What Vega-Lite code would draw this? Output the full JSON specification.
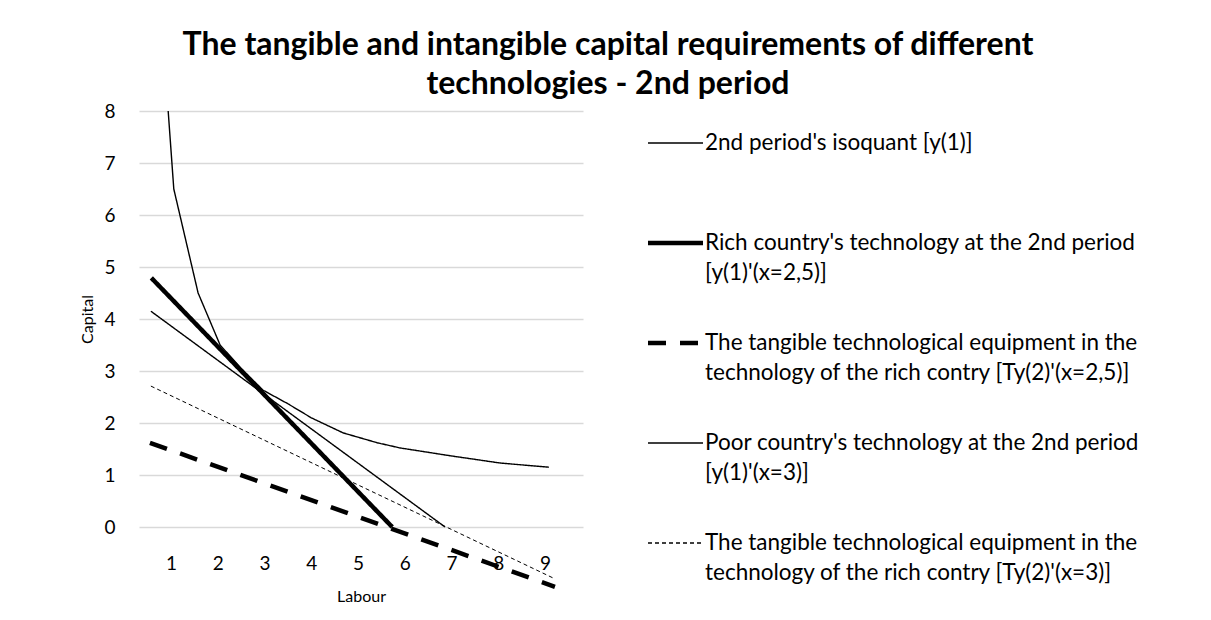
{
  "$schema": "https://vega.github.io/schema/vega-lite/v6.json",
  "width": 444,
  "height": 416,
  "autosize": {"type": "none"},
  "padding": {"left": 139, "top": 111, "right": 628, "bottom": 93},
  "background": "#ffffff",
  "title": {
    "text": ["The tangible and intangible capital requirements of different", "technologies - 2nd period"],
    "font": "Lato",
    "fontSize": 32,
    "fontWeight": "bold",
    "color": "#000000",
    "anchor": "middle",
    "frame": "group",
    "dx": 247,
    "dy": 7,
    "lineHeight": 39,
    "offset": 8
  },
  "data": {
    "values": [
      {"series": "2nd period's isoquant [y(1)]", "labour": 0.94, "capital": 8.0},
      {"series": "2nd period's isoquant [y(1)]", "labour": 1.06, "capital": 6.5},
      {"series": "2nd period's isoquant [y(1)]", "labour": 1.58, "capital": 4.5},
      {"series": "2nd period's isoquant [y(1)]", "labour": 2.05, "capital": 3.5},
      {"series": "2nd period's isoquant [y(1)]", "labour": 2.5, "capital": 3.05},
      {"series": "2nd period's isoquant [y(1)]", "labour": 2.97, "capital": 2.63},
      {"series": "2nd period's isoquant [y(1)]", "labour": 3.5, "capital": 2.37},
      {"series": "2nd period's isoquant [y(1)]", "labour": 4.0, "capital": 2.1},
      {"series": "2nd period's isoquant [y(1)]", "labour": 4.68, "capital": 1.81},
      {"series": "2nd period's isoquant [y(1)]", "labour": 5.41, "capital": 1.62},
      {"series": "2nd period's isoquant [y(1)]", "labour": 5.9, "capital": 1.52},
      {"series": "2nd period's isoquant [y(1)]", "labour": 6.33, "capital": 1.46},
      {"series": "2nd period's isoquant [y(1)]", "labour": 6.97, "capital": 1.37},
      {"series": "2nd period's isoquant [y(1)]", "labour": 8.04, "capital": 1.23},
      {"series": "2nd period's isoquant [y(1)]", "labour": 9.08, "capital": 1.15},
      {"series": "Rich country's technology at the 2nd period [y(1)'(x=2,5)]", "labour": 0.58, "capital": 4.79},
      {"series": "Rich country's technology at the 2nd period [y(1)'(x=2,5)]", "labour": 5.73, "capital": 0.0},
      {"series": "The tangible technological equipment in the technology of the rich contry [Ty(2)'(x=2,5)]", "labour": 0.55, "capital": 1.62},
      {"series": "The tangible technological equipment in the technology of the rich contry [Ty(2)'(x=2,5)]", "labour": 9.21, "capital": -1.15},
      {"series": "Poor country's technology at the 2nd period [y(1)'(x=3)]", "labour": 0.57, "capital": 4.15},
      {"series": "Poor country's technology at the 2nd period [y(1)'(x=3)]", "labour": 6.86, "capital": 0.0},
      {"series": "The tangible technological equipment in the technology of the rich contry [Ty(2)'(x=3)]", "labour": 0.57, "capital": 2.71},
      {"series": "The tangible technological equipment in the technology of the rich contry [Ty(2)'(x=3)]", "labour": 9.17, "capital": -0.98}
    ]
  },
  "encoding": {
    "x": {
      "field": "labour",
      "type": "quantitative",
      "scale": {"domain": [0.316, 9.81], "nice": false, "zero": false},
      "axis": {
        "title": "Labour",
        "values": [1, 2, 3, 4, 5, 6, 7, 8, 9],
        "grid": false,
        "domain": false,
        "ticks": false,
        "tickSize": 0,
        "labelPadding": 27,
        "labelFont": "Lato",
        "labelFontSize": 19,
        "labelColor": "#000000",
        "titleFont": "Lato",
        "titleFontSize": 16,
        "titleFontWeight": "normal",
        "titleColor": "#000000",
        "titlePadding": 15
      }
    },
    "y": {
      "field": "capital",
      "type": "quantitative",
      "scale": {"domain": [0, 8], "nice": false},
      "axis": {
        "title": "Capital",
        "values": [0, 1, 2, 3, 4, 5, 6, 7, 8],
        "grid": true,
        "gridColor": "#d9d9d9",
        "gridWidth": 1.5,
        "domain": false,
        "ticks": false,
        "tickSize": 0,
        "labelPadding": 24,
        "labelFont": "Lato",
        "labelFontSize": 19,
        "labelColor": "#000000",
        "titleFont": "Lato",
        "titleFontSize": 16,
        "titleFontWeight": "normal",
        "titleColor": "#000000",
        "titlePadding": 8
      }
    },
    "color": {
      "field": "series",
      "type": "nominal",
      "scale": {
        "domain": [
          "2nd period's isoquant [y(1)]",
          "Rich country's technology at the 2nd period [y(1)'(x=2,5)]",
          "The tangible technological equipment in the technology of the rich contry [Ty(2)'(x=2,5)]",
          "Poor country's technology at the 2nd period [y(1)'(x=3)]",
          "The tangible technological equipment in the technology of the rich contry [Ty(2)'(x=3)]"
        ],
        "range": ["#000000", "#000000", "#000000", "#000000", "#000000"]
      },
      "legend": {
        "title": null,
        "orient": "none",
        "legendX": 508,
        "legendY": 3.5,
        "symbolType": "stroke",
        "symbolSize": 3025,
        "symbolStrokeColor": "#000000",
        "symbolStrokeWidth": {"expr": "(isValid(datum) && isString(datum.value) && indexof(datum.value, '(x=2,5)') > 0 ? 4.5 : 1.3)"},
        "labelFont": "Lato",
        "labelFontSize": 22.5,
        "labelColor": "#000000",
        "labelLimit": 700,
        "labelOffset": 1,
        "rowPadding": 30,
        "padding": 0,
        "labelExpr": "indexof(datum.value,'isoquant') >= 0 ? [datum.value, ''] : indexof(datum.value,' technology of') > 0 ? [substring(datum.value,0,indexof(datum.value,' technology of')), substring(datum.value,indexof(datum.value,' technology of')+1)] : [substring(datum.value,0,indexof(datum.value,' [')), substring(datum.value,indexof(datum.value,' [')+1)]"
      }
    },
    "strokeDash": {
      "field": "series",
      "type": "nominal",
      "scale": {
        "domain": [
          "2nd period's isoquant [y(1)]",
          "Rich country's technology at the 2nd period [y(1)'(x=2,5)]",
          "The tangible technological equipment in the technology of the rich contry [Ty(2)'(x=2,5)]",
          "Poor country's technology at the 2nd period [y(1)'(x=3)]",
          "The tangible technological equipment in the technology of the rich contry [Ty(2)'(x=3)]"
        ],
        "range": [[1, 0], [1, 0], [18, 14], [1, 0], [4, 3]]
      }
    }
  },
  "layer": [
    {
      "transform": [{"filter": "indexof(datum.series, 'isoquant') >= 0 || indexof(datum.series, 'Poor') == 0"}],
      "mark": {"type": "line", "clip": false, "strokeWidth": 1.4}
    },
    {
      "transform": [{"filter": "indexof(datum.series, '(x=3)') > 0 && indexof(datum.series, 'tangible') > 0"}],
      "mark": {"type": "line", "clip": false, "strokeWidth": 1}
    },
    {
      "transform": [{"filter": "indexof(datum.series, '(x=2,5)') > 0"}],
      "mark": {"type": "line", "clip": false, "strokeWidth": 4.5}
    }
  ],
  "config": {
    "view": {"stroke": null},
    "font": "Lato",
    "style": {"guide-label": {"lineHeight": 30}}
  }
}
